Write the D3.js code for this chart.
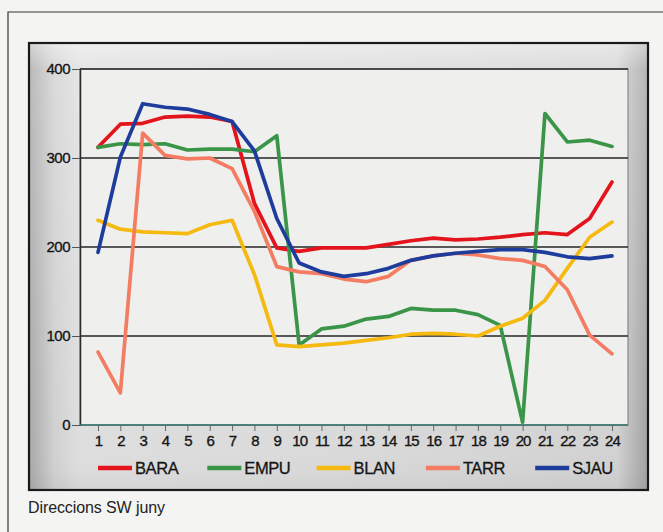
<!DOCTYPE html>
<html>
<head>
<meta charset="utf-8">
<script src="https://cdn.jsdelivr.net/npm/d3@7"></script>
<style>
    body { margin: 0; background: #f4f4f2; }
    svg { display: block; font-family: "Liberation Sans", Arial, sans-serif; }
</style>
</head>
<body>
<div id="chart-container"></div>
<script>
// hours on the x axis
const hours = [1, 2, 3, 4, 5, 6, 7, 8, 9, 10, 11, 12, 13, 14, 15, 16, 17, 18, 19, 20, 21, 22, 23, 24];
const yTicks = [0, 100, 200, 300, 400];

// series values
const bara = [312, 338, 339, 346, 347, 346, 341, 249, 199, 195, 199, 199, 199, 203, 207, 210, 208, 209, 211, 214, 216, 214, 232, 273];
const empu = [312, 316, 315, 316, 309, 310, 310, 307, 325, 90, 108, 111, 119, 122, 131, 129, 129, 124, 112, 3, 350, 318, 320, 313];
const blan = [230, 220, 217, 216, 215, 225, 230, 169, 90, 88, 90, 92, 95, 98, 102, 103, 102, 100, 111, 120, 140, 176, 211, 228];
const tarr = [82, 36, 328, 303, 299, 300, 288, 240, 178, 172, 170, 164, 161, 167, 185, 190, 193, 191, 187, 185, 178, 152, 101, 80];
const sjau = [194, 301, 361, 357, 355, 349, 341, 308, 232, 182, 172, 167, 170, 176, 185, 190, 193, 195, 197, 197, 194, 189, 187, 190];

const seriesNames = ['BARA', 'EMPU', 'BLAN', 'TARR', 'SJAU'];
const seriesColors = ['#e3141c', '#3b9548', '#f6b90f', '#f47c62', '#1d3c9c'];
const seriesValues = [bara, empu, blan, tarr, sjau];

const caption = 'Direccions SW juny';

function createChart(elementId) {
    const width = 663;
    const height = 532;

    // inner panel and plot box
    const panel = { left: 29, top: 43, right: 648, bottom: 490 };
    const plot = { left: 80, top: 69, right: 628, bottom: 425 };

    const svg = d3.select(elementId).append('svg').attr('width', width).attr('height', height);

    const defs = svg.append('defs');
    const hGrad = defs.append('linearGradient').attr('id', 'panel-h').attr('x1', 0).attr('x2', 1).attr('y1', 0).attr('y2', 0);
    [[0, '#a8a8a8'], [0.04, '#d0d0d0'], [0.08, '#dedede'], [0.5, '#dadada'], [0.95, '#d2d2d2'], [1, '#a2a2a2']]
        .forEach(([o, c]) => hGrad.append('stop').attr('offset', o).attr('stop-color', c));
    const vGrad = defs.append('linearGradient').attr('id', 'panel-v').attr('x1', 0).attr('x2', 0).attr('y1', 0).attr('y2', 1);
    [[0, '#ffffff', 0.5], [0.06, '#ffffff', 0.2], [0.9, '#ffffff', 0], [1, '#000000', 0.04]]
        .forEach(([o, c, a]) => vGrad.append('stop').attr('offset', o).attr('stop-color', c).attr('stop-opacity', a));

    // outer frame
    svg.append('path')
        .attr('d', `M8,${height} L8,12 L${width},12`)
        .attr('fill', 'none')
        .attr('stroke', '#333')
        .attr('stroke-width', 1.2);

    // inner panel
    svg.append('rect')
        .attr('x', panel.left).attr('y', panel.top)
        .attr('width', panel.right - panel.left).attr('height', panel.bottom - panel.top)
        .attr('fill', 'url(#panel-h)');
    svg.append('rect')
        .attr('x', panel.left).attr('y', panel.top)
        .attr('width', panel.right - panel.left).attr('height', panel.bottom - panel.top)
        .attr('fill', 'url(#panel-v)')
        .attr('stroke', '#1a1a1a')
        .attr('stroke-width', 2.2);

    // plot background
    svg.append('rect')
        .attr('x', plot.left).attr('y', plot.top)
        .attr('width', plot.right - plot.left).attr('height', plot.bottom - plot.top)
        .attr('fill', '#efefed')
        .attr('stroke', '#777')
        .attr('stroke-width', 1);

    const x = d3.scaleLinear().domain([1, 24]).range([98, 612]);
    const y = d3.scaleLinear().domain([0, 400]).range([plot.bottom, plot.top]);

    // gridlines
    svg.append('g')
        .selectAll('line')
        .data(yTicks.filter(d => d > 0))
        .join('line')
        .attr('x1', plot.left).attr('x2', plot.right)
        .attr('y1', d => y(d)).attr('y2', d => y(d))
        .attr('stroke', '#262626')
        .attr('stroke-width', 1.3);

    // y axis
    const yAxis = svg.append('g')
        .attr('transform', `translate(${plot.left},0)`)
        .call(d3.axisLeft(y).tickValues(yTicks).tickSize(8).tickPadding(2).tickSizeOuter(0));
    yAxis.select('.domain').attr('stroke', '#2a2a2a').attr('stroke-width', 1.5);
    yAxis.selectAll('.tick line').attr('stroke', '#555');
    yAxis.selectAll('text')
        .attr('fill', '#151515')
        .attr('stroke', '#151515')
        .attr('stroke-width', 0.35)
        .style('font-size', '15px')
        .style('letter-spacing', '-0.5px');

    // x axis
    const xAxis = svg.append('g')
        .attr('transform', `translate(0,${plot.bottom})`)
        .call(d3.axisBottom(x).tickValues(hours).tickFormat(d3.format('d')).tickSize(6).tickPadding(4).tickSizeOuter(0));
    xAxis.select('.domain')
        .attr('d', `M${plot.left},0H${plot.right}`)
        .attr('stroke', '#2f6f6a')
        .attr('stroke-width', 1.6);
    xAxis.selectAll('.tick line').attr('stroke', '#666');
    xAxis.selectAll('text')
        .attr('fill', '#151515')
        .attr('stroke', '#151515')
        .attr('stroke-width', 0.35)
        .style('font-size', '15px')
        .style('letter-spacing', '-0.9px');

    // series lines
    const line = d3.line()
        .x((d, i) => x(hours[i]))
        .y(d => y(d));

    svg.append('g')
        .selectAll('path')
        .data(seriesValues)
        .join('path')
        .attr('d', line)
        .attr('fill', 'none')
        .attr('stroke', (d, i) => seriesColors[i])
        .attr('stroke-width', 3.7)
        .attr('stroke-linejoin', 'round')
        .attr('stroke-linecap', 'round');

    // legend
    const legendItem = svg.append('g')
        .attr('transform', 'translate(98,468)')
        .selectAll('g')
        .data(seriesNames)
        .join('g')
        .attr('transform', (d, i) => `translate(${i * 109.3},0)`);

    legendItem.append('line')
        .attr('x1', 0).attr('x2', 34)
        .attr('stroke', (d, i) => seriesColors[i])
        .attr('stroke-width', 4.5);

    legendItem.append('text')
        .attr('x', 37)
        .attr('y', 6)
        .attr('fill', '#151515')
        .attr('stroke', '#151515')
        .attr('stroke-width', 0.3)
        .style('font-size', '16.5px')
        .style('letter-spacing', '-0.4px')
        .text(d => d);

    // caption under the panel
    svg.append('text')
        .attr('x', 28)
        .attr('y', 513)
        .attr('fill', '#222')
        .style('font-size', '16px')
        .style('letter-spacing', '-0.1px')
        .text(caption);
}

createChart('#chart-container');
</script>
</body>
</html>
